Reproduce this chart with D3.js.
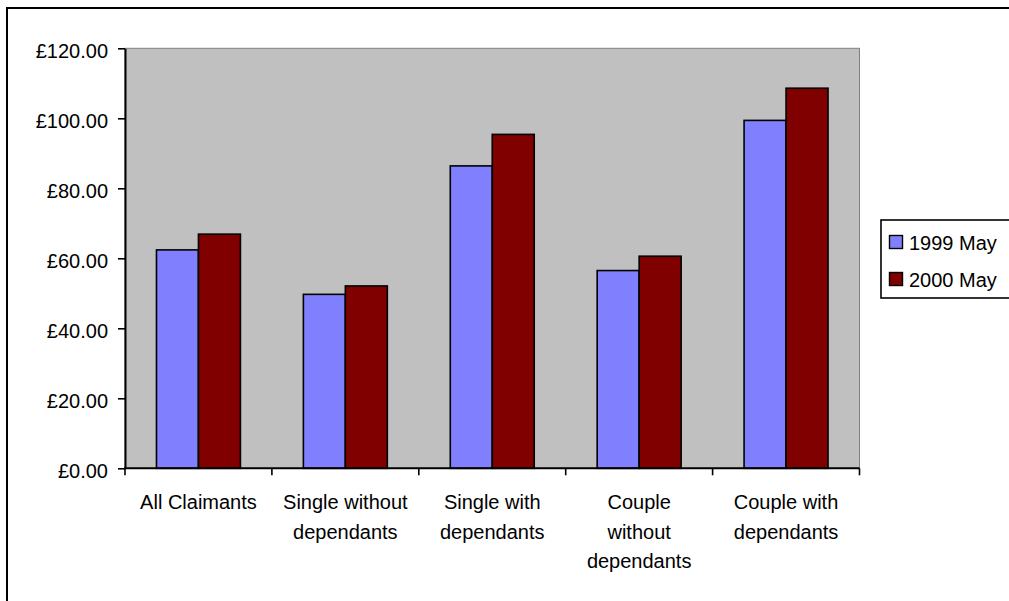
<!DOCTYPE html>
<html>
<head>
<meta charset="utf-8">
<script src="https://cdn.jsdelivr.net/npm/d3@7"></script>
<style>
  html, body { margin: 0; padding: 0; background: #fff; overflow: hidden; }
  svg { display: block; }
  text { font-family: "Liberation Sans", Arial, sans-serif; fill: #000; }
</style>
</head>
<body>
<svg id="chart" width="1009" height="601"></svg>
<script>
// Average weekly amounts by claimant type
const categories = ["All Claimants", "Single without dependants", "Single with dependants", "Couple without dependants", "Couple with dependants"];
const seriesNames = ["1999 May", "2000 May"];
const may1999 = [62.4, 49.7, 86.4, 56.5, 99.4];
const may2000 = [66.9, 52.1, 95.4, 60.6, 108.6];
const yTicks = [0, 20, 40, 60, 80, 100, 120];
const seriesColors = ["#8080FF", "#800000"];

const svg = d3.select("#chart");
const fontSize = 20;

// Outer chart frame (runs off the right and bottom edges)
svg.append("rect")
  .attr("x", 7).attr("y", 8)
  .attr("width", 1100).attr("height", 700)
  .attr("fill", "#fff").attr("stroke", "#000").attr("stroke-width", 2);

const plot = { left: 125, top: 48.3, right: 859.5, bottom: 468.3 };

const x0 = d3.scaleBand().domain(categories).range([plot.left, plot.right]).padding(0);
const x1 = d3.scaleBand().domain(seriesNames).range([0, x0.bandwidth()])
  .paddingInner(0).paddingOuter(0.75);
const y = d3.scaleLinear().domain([0, 120]).range([plot.bottom, plot.top]);

// Plot area
svg.append("rect")
  .attr("x", plot.left).attr("y", plot.top)
  .attr("width", plot.right - plot.left).attr("height", plot.bottom - plot.top)
  .attr("fill", "#C0C0C0").attr("stroke", "#808080").attr("stroke-width", 1);

// Bars
const rows = categories.map((c, i) => ({ cat: c, values: [may1999[i], may2000[i]] }));
const groups = svg.append("g").selectAll("g").data(rows).join("g")
  .attr("transform", d => `translate(${x0(d.cat)},0)`);
groups.selectAll("rect")
  .data(d => d.values.map((v, j) => ({ name: seriesNames[j], value: v, color: seriesColors[j] })))
  .join("rect")
  .attr("x", d => x1(d.name))
  .attr("y", d => y(d.value))
  .attr("width", x1.bandwidth())
  .attr("height", d => y(0) - y(d.value))
  .attr("fill", d => d.color)
  .attr("stroke", "#000").attr("stroke-width", 1.6);

// Y axis
const fmt = v => "£" + v.toFixed(2);
const yAxis = svg.append("g").attr("transform", `translate(${plot.left},0)`)
  .call(d3.axisLeft(y).tickValues(yTicks).tickFormat(fmt).tickSize(7).tickSizeOuter(0));
yAxis.select(".domain").attr("stroke", "#000").attr("stroke-width", 2);
yAxis.selectAll(".tick line").attr("stroke", "#000").attr("stroke-width", 1.6);
yAxis.selectAll(".tick text")
  .attr("x", -17).attr("dy", null).attr("y", 9)
  .style("font-size", fontSize + "px").attr("fill", "#000")
  .style("font-family", "'Liberation Sans', Arial, sans-serif");

// X axis: baseline with ticks at category boundaries
const xAxisG = svg.append("g");
xAxisG.append("line")
  .attr("x1", plot.left - 1).attr("x2", plot.right)
  .attr("y1", plot.bottom).attr("y2", plot.bottom)
  .attr("stroke", "#000").attr("stroke-width", 2);
const boundaries = categories.map(c => x0(c)).concat([x0(categories[categories.length - 1]) + x0.bandwidth()]);
xAxisG.selectAll("line.tick").data(boundaries).join("line")
  .attr("class", "tick")
  .attr("x1", d => d).attr("x2", d => d)
  .attr("y1", plot.bottom).attr("y2", plot.bottom + 7)
  .attr("stroke", "#000").attr("stroke-width", 1.6);

// Category labels, wrapped to the category width
const maxLabelWidth = 126;
const labelG = xAxisG.selectAll("text.cat").data(categories).join("text")
  .attr("class", "cat")
  .attr("text-anchor", "middle")
  .style("font-size", fontSize + "px");
labelG.each(function (d) {
  const t = d3.select(this);
  const cx = x0(d) + x0.bandwidth() / 2;
  const words = d.split(" ");
  const lines = [];
  let cur = [];
  const probe = t.append("tspan");
  words.forEach(w => {
    const test = cur.concat([w]).join(" ");
    probe.text(test);
    if (cur.length && probe.node().getComputedTextLength() > maxLabelWidth) {
      lines.push(cur.join(" "));
      cur = [w];
    } else {
      cur.push(w);
    }
  });
  lines.push(cur.join(" "));
  probe.remove();
  lines.forEach((ln, i) => {
    t.append("tspan").attr("x", cx).attr("y", 509 + i * 29.5).text(ln);
  });
});

// Legend
const legend = svg.append("g");
legend.append("rect")
  .attr("x", 881).attr("y", 220).attr("width", 200).attr("height", 78)
  .attr("fill", "#fff").attr("stroke", "#000").attr("stroke-width", 1.6);
seriesNames.forEach((name, i) => {
  const cy = 242 + i * 37;
  legend.append("rect")
    .attr("x", 889.5).attr("y", cy - 6.5).attr("width", 13).attr("height", 13)
    .attr("fill", seriesColors[i]).attr("stroke", "#000").attr("stroke-width", 1.4);
  legend.append("text")
    .attr("x", 909).attr("y", cy + 7.5)
    .style("font-size", fontSize + "px")
    .text(name);
});
</script>
</body>
</html>
